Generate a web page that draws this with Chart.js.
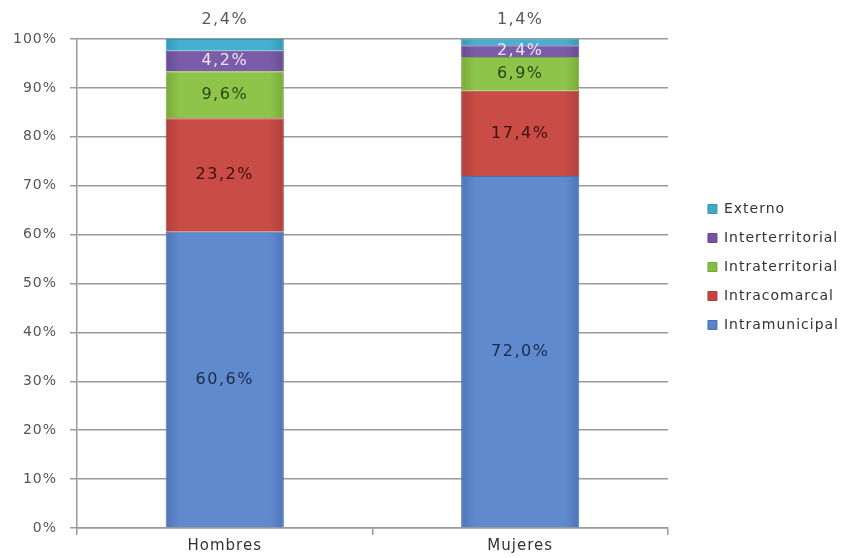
<!DOCTYPE html>
<html>
<head>
<meta charset="utf-8">
<script src="https://cdn.jsdelivr.net/npm/chart.js@4"></script>
<style>
html,body{margin:0;padding:0;background:#fff;}
canvas{display:block;}
</style>
</head>
<body>
<canvas id="c" width="849" height="558"></canvas>
<script>
const categories = ["Hombres", "Mujeres"];
const intramunicipal = [60.6, 72.0];
const intracomarcal = [23.2, 17.4];
const intraterritorial = [9.6, 6.9];
const interterritorial = [4.2, 2.4];
const externo = [2.4, 1.4];
const yTicks = [0,10,20,30,40,50,60,70,80,90,100];

const FONT = '"DejaVu Sans", Verdana, sans-serif';
const fmt = v => v.toFixed(1).replace('.', ',') + '%';

function shade(edge, mid) {
  return (c) => {
    const chart = c.chart;
    const xs = chart.scales && chart.scales.x;
    if (!xs || c.dataIndex === undefined || !isFinite(xs.getPixelForValue(c.dataIndex))) return mid;
    const cx = xs.getPixelForValue(c.dataIndex);
    const hw = xs.width / categories.length * 0.8 * 0.5 / 2;
    const g = chart.ctx.createLinearGradient(cx - hw, 0, cx + hw, 0);
    g.addColorStop(0, edge);
    g.addColorStop(0.12, mid);
    g.addColorStop(0.88, mid);
    g.addColorStop(1, edge);
    return g;
  };
}

const spacingPlugin = {
  id: 'spacing',
  beforeUpdate(chart) { chart.ctx.letterSpacing = '1px'; },
  beforeLayout(chart) { chart.ctx.letterSpacing = '1px'; },
  beforeDraw(chart) { chart.ctx.letterSpacing = '1px'; }
};

const labelPlugin = {
  id: 'segLabels',
  afterDatasetsDraw(chart) {
    const ctx = chart.ctx;
    ctx.save();
    ctx.letterSpacing = '1.5px';
    ctx.font = '16px ' + FONT;
    ctx.textAlign = 'center';
    ctx.textBaseline = 'middle';
    chart.data.datasets.forEach((ds, di) => {
      const meta = chart.getDatasetMeta(di);
      meta.data.forEach((bar, i) => {
        const v = ds.data[i];
        const y = ds.labelAbove ? bar.y - 19 : (bar.y + bar.base) / 2;
        ctx.fillStyle = ds.labelColor;
        ctx.fillText(fmt(v), bar.x, y);
      });
    });
    ctx.restore();
  }
};

new Chart(document.getElementById('c'), {
  type: 'bar',
  data: {
    labels: categories,
    datasets: [
      {label: 'Intramunicipal', data: intramunicipal, backgroundColor: shade('#4f74b8', '#608ace'), legendColor: '#5b84c8', borderColor: '#4a6fb2', borderWidth: 1, labelColor: '#1c2a48'},
      {label: 'Intracomarcal', data: intracomarcal, backgroundColor: shade('#b03f3a', '#c94c46'), legendColor: '#c4463f', borderColor: '#a83c37', borderWidth: 1, labelColor: '#3e0f0c'},
      {label: 'Intraterritorial', data: intraterritorial, backgroundColor: shade('#79aa3b', '#8ec44a'), legendColor: '#86bb44', borderColor: '#76a83a', borderWidth: 1, labelColor: '#2b4412'},
      {label: 'Interterritorial', data: interterritorial, backgroundColor: shade('#684c94', '#7b5ca8'), legendColor: '#7454a2', borderColor: '#634a8e', borderWidth: 1, labelColor: '#ece6f4'},
      {label: 'Externo', data: externo, backgroundColor: shade('#3598b6', '#44b1d0'), legendColor: '#3eaac9', borderColor: '#3596b2', borderWidth: 1, labelColor: '#595959', labelAbove: true}
    ]
  },
  options: {
    responsive: false,
    animation: false,
    devicePixelRatio: 1,
    layout: {padding: {top: 39, right: 0, bottom: 0, left: 0}},
    datasets: {bar: {categoryPercentage: 0.8, barPercentage: 0.5}},
    plugins: {
      legend: {
        position: 'right',
        reverse: true,
        align: 'start',
        maxWidth: 220,
        title: {display: true, text: ' ', font: {size: 10}, padding: {top: 136, bottom: 0}},
        labels: {
          boxWidth: 9, boxHeight: 9, padding: 15,
          color: '#333333',
          font: {family: FONT, size: 14},
          generateLabels: (chart) => {
            const items = Chart.defaults.plugins.legend.labels.generateLabels(chart);
            items.forEach(it => {
              const ds = chart.data.datasets[it.datasetIndex];
              it.fillStyle = ds.legendColor;
              it.strokeStyle = ds.borderColor;
              it.lineWidth = 1;
            });
            return items;
          }
        }
      },
      tooltip: {enabled: false}
    },
    scales: {
      x: {
        stacked: true,
        grid: {drawOnChartArea: false, drawTicks: true, tickLength: 7, color: '#9a9a9a', lineWidth: 1.5},
        border: {color: '#9a9a9a', width: 1.5},
        ticks: {color: '#333333', font: {family: FONT, size: 15}, padding: 2.5}
      },
      y: {
        stacked: true,
        min: 0, max: 100,
        afterBuildTicks: s => { s.ticks = yTicks.map(v => ({value: v})); },
        grid: {color: '#9a9a9a', lineWidth: 1.5, tickLength: 7},
        border: {color: '#9a9a9a', width: 1.5},
        ticks: {color: '#555555', font: {family: FONT, size: 14}, padding: 13, callback: v => v + '%'}
      },
      gap: {
        type: 'linear',
        position: 'right',
        display: true,
        grid: {display: false, drawTicks: false},
        border: {display: false},
        ticks: {display: false},
        afterFit: s => { s.width = 25; }
      }
    }
  },
  plugins: [spacingPlugin, labelPlugin]
});
</script>
</body>
</html>
